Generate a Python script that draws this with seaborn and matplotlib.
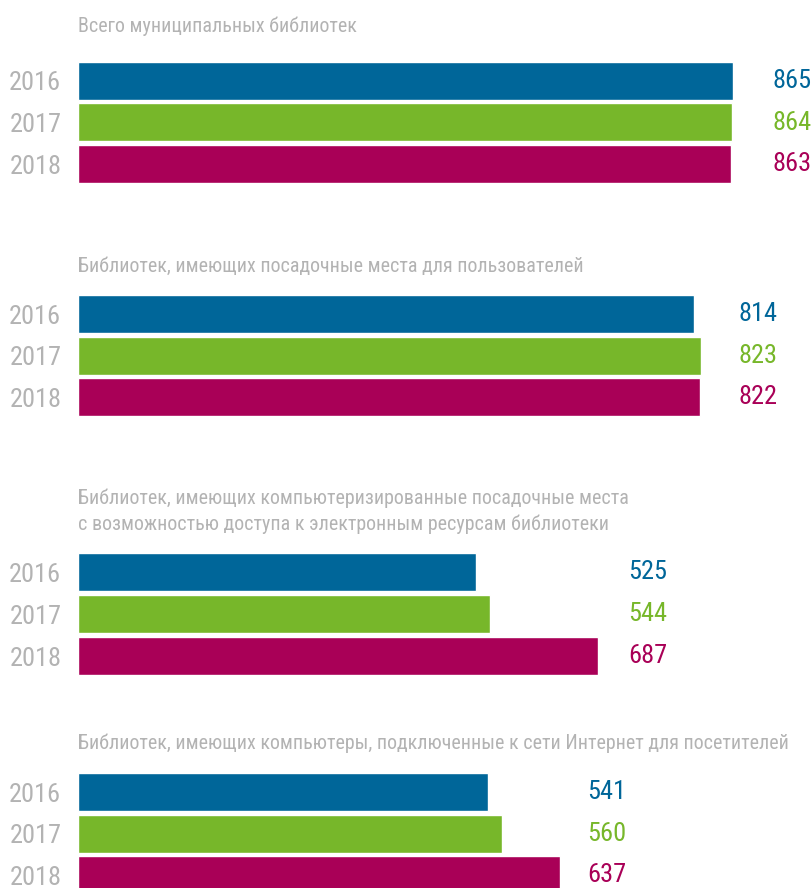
import matplotlib
matplotlib.use("Agg")
import matplotlib.pyplot as plt
from matplotlib import font_manager as fm
import pandas as pd
import seaborn as sns

# Data
years = ["2016", "2017", "2018"]
titles = [
    "Всего муниципальных библиотек",
    "Библиотек, имеющих посадочные места для пользователей",
    "Библиотек, имеющих компьютеризированные посадочные места\nс возможностью доступа к электронным ресурсам библиотеки",
    "Библиотек, имеющих компьютеры, подключенные к сети Интернет для посетителей",
]
total_libs = [865, 864, 863]
seats = [814, 823, 822]
computer_seats = [525, 544, 687]
internet = [541, 560, 637]
groups = [total_libs, seats, computer_seats, internet]

colors = ["#006699", "#77b72a", "#a90057"]
gray = "#b3b3b3"

sns.set_theme(style="white")

# look for a narrow face, the original uses a condensed DIN-like font
names = {f.name for f in fm.fontManager.ttflist}
family = "DejaVu Sans"
narrow = False
for cand in ["Roboto Condensed", "Liberation Sans Narrow", "Open Sans Condensed",
             "DejaVu Sans Condensed", "Noto Sans Condensed"]:
    if cand in names:
        family, narrow = cand, True
        break
plt.rcParams["font.family"] = [family, "DejaVu Sans"]

if narrow:
    num_fs, title_fs = 19, 14.4
else:
    num_fs, title_fs = 16, 11.3

W, H = 811, 888
fig = plt.figure(figsize=(W / 100, H / 100), dpi=100)

left_px = 78
xmax = (W - left_px) / 0.7572
axes_top = [60.25, 293.25, 551.0, 771.25]
pitch = [41.5, 41.5, 42.0, 41.5]
# baseline of the last title line, px from top
title_base = [32, 272, 530, 749]

for k, vals in enumerate(groups):
    ax_h = pitch[k] * 3
    ax = fig.add_axes([left_px / W, 1 - (axes_top[k] + ax_h) / H,
                       (W - left_px) / W, ax_h / H])
    df = pd.DataFrame({"year": years, "value": vals})
    sns.barplot(data=df, x="value", y="year", hue="year", palette=colors,
                orient="h", width=38 / pitch[k], legend=False, ax=ax,
                saturation=1)
    ax.set_xlim(0, xmax)
    ax.set_ylim(2.5, -0.5)
    for s in ax.spines.values():
        s.set_visible(False)
    ax.set_xticks([])
    ax.set_xlabel("")
    ax.set_ylabel("")
    ax.tick_params(axis="y", length=0, pad=12, labelsize=num_fs, labelcolor=gray)

    # value labels sit in one column to the right of the longest bar
    lx = max(vals) * 1.07 + 17
    for i, v in enumerate(vals):
        ax.text(lx, i, str(v), color=colors[i], fontsize=num_fs,
                ha="center", va="center")

    fig.text(left_px / W, 1 - title_base[k] / H, titles[k], color=gray,
             fontsize=title_fs, ha="left", va="baseline", linespacing=1.4)

fig.savefig("out.png", dpi=100)
